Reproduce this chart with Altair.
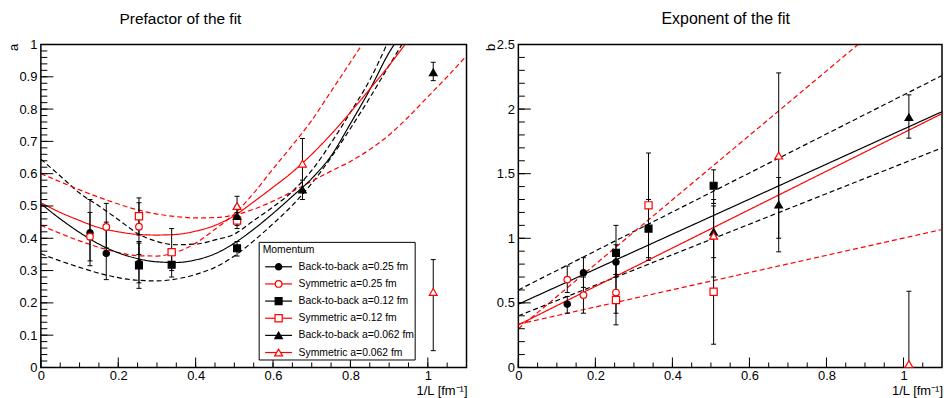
import altair as alt
import pandas as pd

FONT = "Liberation Sans"
RED = "#ff0000"
BLACK = "#000000"

# ---------------- texts ----------------
title_a = "Prefactor of the fit"
title_b = "Exponent of the fit"
ylab_a = "a"
ylab_b = "b"
xlab = "1/L [fm⁻¹]"
legend_title = "Momentum"

# ---------------- series ----------------
series_names = ["Back-to-back a=0.25 fm", "Symmetric a=0.25 fm",
                "Back-to-back a=0.12 fm", "Symmetric a=0.12 fm",
                "Back-to-back a=0.062 fm", "Symmetric a=0.062 fm"]
series_shapes = ["circle", "circle", "square", "square", "triangle-up", "triangle-up"]
series_colors = [BLACK, RED, BLACK, RED, BLACK, RED]
series_filled = [True, False, True, False, True, False]
series_sizes = [40, 44, 48, 52, 58, 62]

# 1/L positions (fm^-1)
x_a025 = [0.127, 0.169, 0.2535]
x_a012 = [0.2535, 0.338, 0.507]
x_a0062 = [0.507, 0.676, 1.014]

# prefactor a (value, low, high)
a_bb025 = [0.417, 0.353, 0.322]
a_bb025_lo = [0.315, 0.272, 0.262]
a_bb025_hi = [0.52, 0.45, 0.385]
a_sy025 = [0.405, 0.435, 0.436]
a_sy025_lo = [0.33, 0.37, 0.35]
a_sy025_hi = [0.48, 0.508, 0.51]
a_bb012 = [0.316, 0.318, 0.369]
a_bb012_lo = [0.245, 0.28, 0.345]
a_bb012_hi = [0.39, 0.36, 0.39]
a_sy012 = [0.468, 0.357, 0.455]
a_sy012_lo = [0.41, 0.30, 0.43]
a_sy012_hi = [0.525, 0.43, 0.48]
a_bb0062 = [0.469, 0.551, 0.914]
a_bb0062_lo = [0.44, 0.52, 0.888]
a_bb0062_hi = [0.50, 0.58, 0.945]
a_sy0062 = [0.50, 0.631, 0.234]
a_sy0062_lo = [0.47, 0.55, 0.052]
a_sy0062_hi = [0.53, 0.709, 0.334]

# exponent b (value, low, high)
b_bb025 = [0.49, 0.733, 0.816]
b_bb025_lo = [0.42, 0.62, 0.70]
b_bb025_hi = [0.55, 0.85, 0.95]
b_sy025 = [0.68, 0.56, 0.58]
b_sy025_lo = [0.58, 0.42, 0.42]
b_sy025_hi = [0.785, 0.70, 0.80]
b_bb012 = [0.887, 1.075, 1.407]
b_bb012_lo = [0.72, 0.83, 1.27]
b_bb012_hi = [1.10, 1.30, 1.53]
b_sy012 = [0.522, 1.255, 0.586]
b_sy012_lo = [0.33, 0.85, 0.18]
b_sy012_hi = [0.72, 1.66, 1.0]
b_bb0062 = [1.05, 1.26, 1.937]
b_bb0062_lo = [0.85, 0.895, 1.775]
b_bb0062_hi = [1.25, 1.47, 2.11]
b_sy0062 = [1.02, 1.64, 0.026]
b_sy0062_lo = [0.70, 1.0, 0.0]
b_sy0062_hi = [1.30, 2.28, 0.59]

# ---------------- fit curves ----------------
grid = [0, 0.05, 0.1, 0.15, 0.2, 0.25, 0.3, 0.35, 0.4, 0.45, 0.5, 0.55, 0.6,
        0.65, 0.7, 0.75, 0.8, 0.85, 0.9]
fa_black_x = grid + [0.913]
fa_black_y = [0.507, 0.46, 0.418, 0.382, 0.355, 0.337, 0.327, 0.325, 0.333, 0.352,
              0.385, 0.428, 0.477, 0.53, 0.585, 0.655, 0.755, 0.86, 0.975, 1.0]
fa_black_up_x = grid[:18] + [0.894]
fa_black_up_y = [0.645, 0.593, 0.54, 0.50, 0.458, 0.415, 0.39, 0.38, 0.382, 0.395,
                 0.413, 0.455, 0.497, 0.545, 0.61, 0.695, 0.79, 0.89, 1.0]
fa_black_lo_x = grid + [0.933]
fa_black_lo_y = [0.352, 0.33, 0.31, 0.292, 0.278, 0.27, 0.268, 0.274, 0.288, 0.31,
                 0.345, 0.392, 0.445, 0.502, 0.57, 0.65, 0.74, 0.835, 0.935, 1.0]
fa_red_x = grid + [0.941]
fa_red_y = [0.51, 0.48, 0.455, 0.433, 0.42, 0.412, 0.41, 0.412, 0.422, 0.44,
            0.47, 0.513, 0.558, 0.605, 0.66, 0.722, 0.79, 0.862, 0.935, 1.0]
fa_red_flat_x = grid + [0.95, 1.0, 1.05, 1.1]
fa_red_flat_y = [0.60, 0.575, 0.55, 0.527, 0.506, 0.488, 0.475, 0.467, 0.463, 0.464,
                 0.472, 0.49, 0.515, 0.545, 0.577, 0.608, 0.638, 0.675, 0.72,
                 0.776, 0.838, 0.9, 0.965]
fa_red_steep_x = grid[:17] + [0.83]
fa_red_steep_y = [0.44, 0.415, 0.392, 0.372, 0.356, 0.346, 0.345, 0.357, 0.385, 0.428,
                  0.475, 0.54, 0.615, 0.688, 0.765, 0.855, 0.945, 1.0]

fb_black_x = [0, 1.1]
fb_black_y = [0.49, 1.98]
fb_black_up_x = [0, 1.1]
fb_black_up_y = [0.60, 2.26]
fb_black_lo_x = [0, 1.1]
fb_black_lo_y = [0.40, 1.70]
fb_red_x = [0, 1.1]
fb_red_y = [0.33, 1.965]
fb_red_steep_x = [0, 0.882]
fb_red_steep_y = [0.30, 2.5]
fb_red_flat_x = [0, 1.1]
fb_red_flat_y = [0.335, 1.068]

# ---------------- axis ticks ----------------
x_major = [0, 0.2, 0.4, 0.6, 0.8, 1.0]
x_minor = [round(i * 0.05, 2) for i in range(22)]
a_major = [round(i * 0.1, 1) for i in range(11)]
a_minor = [round(i * 0.02, 2) for i in range(51)]
b_major = [0, 0.5, 1, 1.5, 2, 2.5]
b_minor = [round(i * 0.1, 1) for i in range(26)]

# ---------------- assemble tables ----------------
series_x = [x_a025, x_a025, x_a012, x_a012, x_a0062, x_a0062]
series_a = [(a_bb025, a_bb025_lo, a_bb025_hi), (a_sy025, a_sy025_lo, a_sy025_hi),
            (a_bb012, a_bb012_lo, a_bb012_hi), (a_sy012, a_sy012_lo, a_sy012_hi),
            (a_bb0062, a_bb0062_lo, a_bb0062_hi), (a_sy0062, a_sy0062_lo, a_sy0062_hi)]
series_b = [(b_bb025, b_bb025_lo, b_bb025_hi), (b_sy025, b_sy025_lo, b_sy025_hi),
            (b_bb012, b_bb012_lo, b_bb012_hi), (b_sy012, b_sy012_lo, b_sy012_hi),
            (b_bb0062, b_bb0062_lo, b_bb0062_hi), (b_sy0062, b_sy0062_lo, b_sy0062_hi)]


def points_table(vals):
    rows = []
    for i, name in enumerate(series_names):
        v, lo, hi = vals[i]
        for j, x in enumerate(series_x[i]):
            rows.append(dict(x=x, v=v[j], lo=lo[j], hi=hi[j], name=name,
                             col=series_colors[i],
                             fillc=series_colors[i] if series_filled[i] else "white",
                             size=series_sizes[i], k=i * 10 + j))
    return pd.DataFrame(rows)


def curves_table(curves):
    rows = []
    for cid, (xs, ys, col, dash) in enumerate(curves):
        for x, y in zip(xs, ys):
            rows.append(dict(x=x, v=y, cid=cid, col=col, dash=dash))
    return pd.DataFrame(rows)


pts_a = points_table(series_a)
pts_b = points_table(series_b)
curves_a = curves_table([
    (fa_black_up_x, fa_black_up_y, BLACK, "dashed"),
    (fa_black_lo_x, fa_black_lo_y, BLACK, "dashed"),
    (fa_red_flat_x, fa_red_flat_y, RED, "dashed"),
    (fa_red_steep_x, fa_red_steep_y, RED, "dashed"),
    (fa_black_x, fa_black_y, BLACK, "solid"),
    (fa_red_x, fa_red_y, RED, "solid"),
])
curves_b = curves_table([
    (fb_black_up_x, fb_black_up_y, BLACK, "dashed"),
    (fb_black_lo_x, fb_black_lo_y, BLACK, "dashed"),
    (fb_red_flat_x, fb_red_flat_y, RED, "dashed"),
    (fb_red_steep_x, fb_red_steep_y, RED, "dashed"),
    (fb_black_x, fb_black_y, BLACK, "solid"),
    (fb_red_x, fb_red_y, RED, "solid"),
])

legend_df = pd.DataFrame(dict(
    name=series_names, col=series_colors,
    fillc=[c if f else "white" for c, f in zip(series_colors, series_filled)],
    size=series_sizes,
    ly=[223 + 17.2 * i for i in range(len(series_names))],
))

H = 324
shape_scale = alt.Scale(domain=series_names, range=series_shapes)


def panel(pts, curves, ydom, ymaj, ymin, title, title_x, title_size, ylab, width, legend):
    xs = alt.Scale(domain=[0, 1.1], nice=False, zero=False)
    ys = alt.Scale(domain=ydom, nice=False, zero=False)
    xax = alt.Axis(values=x_major, format="~g", ticks=False, tickSize=0, domain=False,
                   grid=False, labelFont=FONT, labelFontSize=13, labelColor="black",
                   labelPadding=2, labelFlush=False, labelOverlap=False, title=None)
    yax = alt.Axis(values=ymaj, format="~g", ticks=False, tickSize=0, domain=False,
                   grid=False, labelFont=FONT, labelFontSize=13, labelColor="black",
                   labelPadding=4, labelFlush=False, labelOverlap=False, title=None)

    def X(f):
        return alt.X(f, scale=xs, axis=xax)

    def Y(f):
        return alt.Y(f, scale=ys, axis=yax)

    layers = []
    layers.append(alt.Chart(pd.DataFrame({"d": [0]})).mark_rule(opacity=0).encode(
        x=alt.value(-40), y=alt.value(-43), y2=alt.value(H + 31)))

    layers.append(alt.Chart(curves).mark_line(clip=True, strokeWidth=1.2, interpolate="monotone").encode(
        x=X("x:Q"), y=Y("v:Q"),
        color=alt.Color("col:N", scale=None),
        strokeDash=alt.StrokeDash("dash:N", scale=alt.Scale(domain=["solid", "dashed"], range=[[1, 0], [5, 3]]), legend=None),
        detail="cid:N"))

    layers.append(alt.Chart(pts).mark_rule(color="black", strokeWidth=1).encode(
        x=X("x:Q"), y=Y("lo:Q"), y2="hi:Q"))
    for f in ["lo", "hi"]:
        layers.append(alt.Chart(pts).mark_rule(color="black", strokeWidth=1, xOffset=-2.5, x2Offset=2.5).encode(
            x=X("x:Q"), x2="x:Q", y=Y(f + ":Q")))

    layers.append(alt.Chart(pts).mark_point(opacity=1, filled=True, strokeWidth=1.2).encode(
        x=X("x:Q"), y=Y("v:Q"),
        shape=alt.Shape("name:N", scale=shape_scale, legend=None),
        fill=alt.Fill("fillc:N", scale=None),
        stroke=alt.Stroke("col:N", scale=None),
        size=alt.Size("size:Q", scale=None),
        order=alt.Order("k:Q")))

    # inward ticks
    layers.append(alt.Chart(pd.DataFrame({"t": ymaj})).mark_rule(color="black", strokeWidth=1).encode(
        y=Y("t:Q"), x=alt.value(0), x2=alt.value(12.5)))
    layers.append(alt.Chart(pd.DataFrame({"t": ymin})).mark_rule(color="black", strokeWidth=1).encode(
        y=Y("t:Q"), x=alt.value(0), x2=alt.value(6.5)))
    layers.append(alt.Chart(pd.DataFrame({"t": x_major})).mark_rule(color="black", strokeWidth=1).encode(
        x=X("t:Q"), y=alt.value(H), y2=alt.value(H - 10)))
    layers.append(alt.Chart(pd.DataFrame({"t": x_minor})).mark_rule(color="black", strokeWidth=1).encode(
        x=X("t:Q"), y=alt.value(H), y2=alt.value(H - 5)))

    # titles
    layers.append(alt.Chart(pd.DataFrame({"t": [title]})).mark_text(
        font=FONT, fontSize=title_size, align="center", baseline="middle", color="black").encode(
        text="t:N", x=alt.value(title_x), y=alt.value(-26)))
    layers.append(alt.Chart(pd.DataFrame({"t": [ylab]})).mark_text(
        font=FONT, fontSize=13, align="center", baseline="middle", angle=270, color="black").encode(
        text="t:N", x=alt.value(-27), y=alt.value(3)))
    layers.append(alt.Chart(pd.DataFrame({"t": [xlab]})).mark_text(
        font=FONT, fontSize=13, align="right", baseline="middle", color="black").encode(
        text="t:N", x=alt.value(width + 1), y=alt.value(H + 24)))

    if legend:
        layers.append(alt.Chart(pd.DataFrame({"d": [0]})).mark_rect(
            fill="white", stroke="black", strokeWidth=1).encode(
            x=alt.value(219), x2=alt.value(375.5), y=alt.value(198.5), y2=alt.value(316.5)))
        layers.append(alt.Chart(pd.DataFrame({"t": [legend_title]})).mark_text(
            font=FONT, fontSize=10.4, align="left", baseline="middle", color="black").encode(
            text="t:N", x=alt.value(222.5), y=alt.value(206)))
        layers.append(alt.Chart(legend_df).mark_rule(strokeWidth=1.2).encode(
            x=alt.value(225), x2=alt.value(252),
            y=alt.Y("ly:Q", scale=None, axis=None),
            color=alt.Color("col:N", scale=None)))
        layers.append(alt.Chart(legend_df).mark_point(opacity=1, filled=True, strokeWidth=1.2).encode(
            x=alt.value(238.5),
            y=alt.Y("ly:Q", scale=None, axis=None),
            shape=alt.Shape("name:N", scale=shape_scale, legend=None),
            fill=alt.Fill("fillc:N", scale=None),
            stroke=alt.Stroke("col:N", scale=None),
            size=alt.Size("size:Q", scale=None)))
        layers.append(alt.Chart(legend_df).mark_text(
            font=FONT, fontSize=10.4, align="left", baseline="middle", color="black").encode(
            x=alt.value(258.5),
            y=alt.Y("ly:Q", scale=None, axis=None),
            text="name:N"))

    return alt.layer(*layers).properties(width=width, height=H)


left = panel(pts_a, curves_a, [0, 1], a_major, a_minor, title_a, 140, 15.5, ylab_a, 427, True)
right = panel(pts_b, curves_b, [0, 2.5], b_major, b_minor, title_b, 208, 16, ylab_b, 425, False)

chart = alt.hconcat(left, right, spacing=52, bounds="flush").properties(
    padding={"left": 0, "top": 0, "right": 0, "bottom": 0}, background="white"
).configure_view(stroke="black", strokeWidth=1.5)

chart.save("out.html", embed_options={"renderer": "svg", "actions": False})
